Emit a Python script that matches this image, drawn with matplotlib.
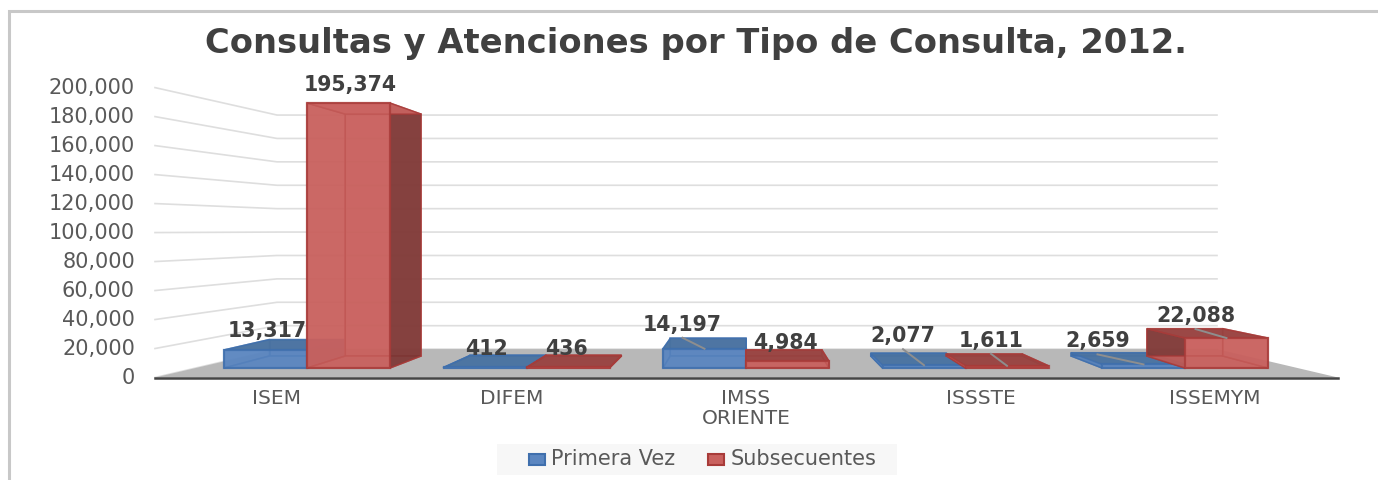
import matplotlib
matplotlib.use("Agg")
import matplotlib.pyplot as plt
from matplotlib.patches import Polygon, Rectangle

# ---- data ----
categories = ["ISEM", "DIFEM", "IMSS\nORIENTE", "ISSSTE", "ISSEMYM"]
primera_vez = [13317, 412, 14197, 2077, 2659]
subsecuentes = [195374, 436, 4984, 1611, 22088]
y_ticks = [0, 20000, 40000, 60000, 80000, 100000, 120000, 140000, 160000, 180000, 200000]
title = "Consultas y Atenciones por Tipo de Consulta, 2012."
series_names = ["Primera Vez", "Subsecuentes"]

# ---- layout (pixels of the 1378x480 canvas) ----
W, H = 1378, 480
X0_PX, CAT_PX = 307.0, 219.5       # first category centre, category spacing on bar front plane
Y0_PX, PX_PER_UNIT = 368.0, 1.356 / 1000
VP_X, VP_Y = 747.0, 230.0          # vanishing point
BAR_W = 83.0 / CAT_PX              # bar width in category units
S_BAR_BACK = 0.913
S_WALL_FRONT, S_WALL_BACK = 1.069, 0.863
WALL_X_FRONT = (155.0, 1338.0)
WALL_X_BACK = (277.0, 1217.0)

fig = plt.figure(figsize=(W / 100, H / 100), dpi=100, facecolor="white")
ax = fig.add_axes([0, 0, 1, 1])
ax.set_xlim((0 - X0_PX) / CAT_PX, (W - X0_PX) / CAT_PX)
ax.set_ylim((Y0_PX - H) / PX_PER_UNIT, Y0_PX / PX_PER_UNIT)
ax.axis("off")


def x_px(x):
    return X0_PX + x * CAT_PX


def y_px(v):
    return Y0_PX - v * PX_PER_UNIT


def from_px(px, py):
    return (px - X0_PX) / CAT_PX, (Y0_PX - py) / PX_PER_UNIT


def proj(x, v, s):
    """Project a point of the front bar plane to depth scale s; returns data coords."""
    return from_px(VP_X + s * (x_px(x) - VP_X), VP_Y + s * (y_px(v) - VP_Y))


def level_px(v, s):
    return VP_Y + s * (y_px(v) - VP_Y)


# ---- frame ----
fr = "#C8C8C8"
ax.plot(*zip(from_px(9, 480), from_px(9, 11), from_px(W, 11)), color=fr, lw=2.2, zorder=1, solid_joinstyle="miter")

# ---- walls and gridlines ----
grid = "#DEDEDE"
for v in y_ticks:
    yf, yb = level_px(v, S_WALL_FRONT), level_px(v, S_WALL_BACK)
    ax.plot(*zip(from_px(WALL_X_FRONT[0], yf), from_px(WALL_X_BACK[0], yb), from_px(WALL_X_BACK[1], yb)),
            color=grid, lw=1.2, zorder=2)
    lx, ly = from_px(135, yf + 0.8)
    ax.text(lx, ly, f"{v:,}", ha="right", va="center", fontsize=15, color="#595959", zorder=10)

yf0, yb0 = level_px(0, S_WALL_FRONT), level_px(0, S_WALL_BACK)
ax.add_patch(Polygon([from_px(WALL_X_FRONT[0], yf0), from_px(WALL_X_BACK[0], yb0),
                      from_px(WALL_X_BACK[1], yb0), from_px(WALL_X_FRONT[1], yf0)],
                     facecolor="#B8B8B8", edgecolor="none", zorder=3))
ax.plot(*zip(from_px(WALL_X_FRONT[0], yf0 + 0.5), from_px(WALL_X_FRONT[1], yf0 + 0.5)),
        color="#454545", lw=1.8, zorder=4)


# ---- 3D bars ----
def bar3d(left, right, v, front, edge, dark, mid, z):
    c = [(left, v), (right, v), (right, 0), (left, 0)]
    fl, fr_, br, bl = c
    Bl, Br, Brb, Blb = [proj(x, y, S_BAR_BACK) for x, y in c]
    centre_left = (x_px(left) + x_px(right)) / 2 < VP_X
    top_seen_from_below = y_px(v) < VP_Y
    faces = [
        ([Bl, Br, Brb, Blb], front, 0.85, 1.1),                                # back
        ([fl, Bl, Blb, bl], front if centre_left else dark, 0.82, 1.1),        # left side
        ([bl, br, Brb, Blb], front, 0.8, 1.1),                                 # bottom
        ([fr_, Br, Brb, br], dark if centre_left else front, 0.82, 1.1),       # right side
        ([fl, fr_, Br, Bl], front if top_seen_from_below else mid, 0.9, 1.1),  # top
        ([fl, fr_, br, bl], front, 0.75, 1.6),                                 # front
    ]
    for pts, col, a, lw in faces:
        ax.add_patch(Polygon(pts, closed=True, facecolor=col, alpha=a, edgecolor="none", zorder=z))
        ax.add_patch(Polygon(pts, closed=True, fill=False, edgecolor=edge, lw=lw, alpha=0.8, zorder=z))


blue = ("#5B86C0", "#3F6FAD", "#3F6797", "#4A729F")
red = ("#C9615E", "#A83B39", "#743533", "#964341")
for i, (a, b) in enumerate(zip(primera_vez, subsecuentes)):
    bar3d(i - BAR_W, i, a, *blue, z=5 + 0.1 * i)
    bar3d(i, i + BAR_W, b, *red, z=5.05 + 0.1 * i)

# ---- value labels, offset in pixels from the top-front centre of each bar ----
offs_a = [(2, -19), (1, -18.5), (-22, -24), (-21, -29), (-46, -23)]
offs_b = [(1.5, -18), (-1, -18), (-2, -18), (-16, -25), (-31, -22)]
for i in range(len(categories)):
    for vals, offs, cx in ((primera_vez, offs_a, i - BAR_W / 2), (subsecuentes, offs_b, i + BAR_W / 2)):
        v = vals[i]
        dx, dy = offs[i]
        tx, ty = x_px(cx), y_px(v)
        lx, ly = from_px(tx + dx, ty + dy)
        if abs(dx) > 5:
            ax.plot(*zip(from_px(tx + dx, ty + dy + 13), (cx, v)), color="#8E8E8E", lw=1.4, zorder=8)
        ax.text(lx, ly, f"{v:,}", ha="center", va="center", fontsize=14.8, fontweight="bold",
                color="#404040", zorder=9)

# ---- category labels ----
for i, name in enumerate(categories):
    px = VP_X + S_WALL_FRONT * (x_px(i) - VP_X)
    for k, part in enumerate(name.split("\n")):
        lx, ly = from_px(px, 398 + 21 * k)
        ax.text(lx, ly, part, ha="center", va="center", fontsize=14.5, color="#595959", zorder=10)

# ---- title ----
tx, ty = from_px(696, 43)
ax.text(tx, ty, title, ha="center", va="center", fontsize=24.3, fontweight="bold", color="#404040", zorder=10)

# ---- legend ----
lx0, ly0 = from_px(497, 475)
lx1, ly1 = from_px(897, 444)
ax.add_patch(Rectangle((lx0, ly0), lx1 - lx0, ly1 - ly0, facecolor="#F7F7F7", edgecolor="none", zorder=2))
for (sx, tx_px, name, (fc, ec, _, _m)) in ((529, 551, series_names[0], blue), (708, 731, series_names[1], red)):
    a0, b0 = from_px(sx, 465)
    a1, b1 = from_px(sx + 16, 454)
    ax.add_patch(Rectangle((a0, b0), a1 - a0, b1 - b0, facecolor=fc, edgecolor=ec, lw=1.5, zorder=3))
    a, b = from_px(tx_px, 459)
    ax.text(a, b, name, ha="left", va="center", fontsize=15, color="#595959", zorder=10)

fig.savefig("out.png", dpi=100, facecolor="white")
